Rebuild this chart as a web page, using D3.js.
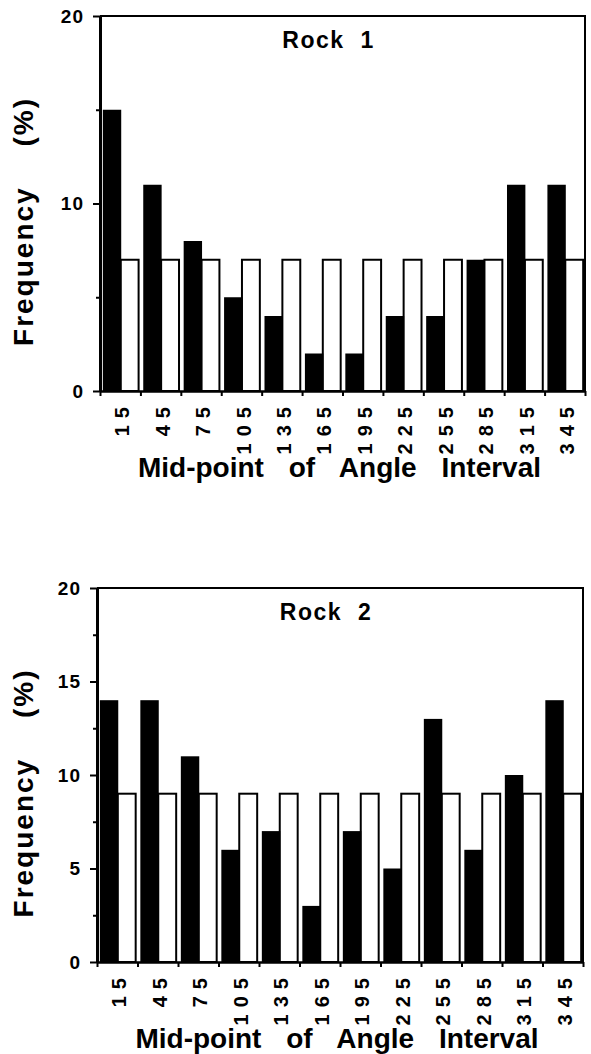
<!DOCTYPE html>
<html>
<head>
<meta charset="utf-8">
<script src="https://cdn.jsdelivr.net/npm/d3@7"></script>
<style>
    body { margin: 0; background: #fff; }
    svg text { font-family: "Liberation Sans", Arial, Helvetica, sans-serif; font-weight: bold; fill: #000; }
</style>
</head>
<body>
<svg id="chart" width="591" height="1054"></svg>
<script>
// mid-point of each 30 degree angle interval
var angleLabels = ["15", "45", "75", "105", "135", "165", "195", "225", "255", "285", "315", "345"];

// Rock 1 : black = measured, white = uniform
var rock1Observed = [15, 11, 8, 5, 4, 2, 2, 4, 4, 7, 11, 11];
var rock1Uniform = [7, 7, 7, 7, 7, 7, 7, 7, 7, 7, 7, 7];
var rock1Ticks = [0, 10, 20];
var rock1MinorTicks = [5, 15];

// Rock 2
var rock2Observed = [14, 14, 11, 6, 7, 3, 7, 5, 13, 6, 10, 14];
var rock2Uniform = [9, 9, 9, 9, 9, 9, 9, 9, 9, 9, 9, 9];
var rock2Ticks = [0, 5, 10, 15, 20];
var rock2MinorTicks = [2.5, 7.5, 12.5, 17.5];

var yMax = 20;

var svg = d3.select("#chart");

function drawPanel(p) {
    let g = svg.append("g");

    let x = d3.scaleBand().domain(angleLabels).range([p.left, p.right]);
    let bw = x.bandwidth();
    let xIn = d3.scaleBand().domain(["obs", "uni"]).range([bw * 0.07, bw * 0.955]);
    let xEdge = d3.scaleLinear().domain([0, angleLabels.length]).range([p.left, p.right]);
    let y = d3.scaleLinear().domain([0, yMax]).range([p.bottom, p.top]);

    // frame (top + right)
    g.append("path")
        .attr("d", "M" + p.left + "," + y(yMax) + "H" + p.right + "V" + y(0))
        .attr("fill", "none")
        .attr("stroke", "#000")
        .attr("stroke-width", 2);

    // white bars (uniform distribution)
    g.selectAll("rect.uni")
        .data(p.uniform)
        .join("rect")
        .attr("class", "uni")
        .attr("x", (d, i) => x(angleLabels[i]) + xIn("uni"))
        .attr("y", d => y(d))
        .attr("width", xIn.bandwidth())
        .attr("height", d => y(0) - y(d))
        .attr("fill", "#fff")
        .attr("stroke", "#000")
        .attr("stroke-width", 2);

    // black bars (observed)
    g.selectAll("rect.obs")
        .data(p.observed)
        .join("rect")
        .attr("class", "obs")
        .attr("x", (d, i) => x(angleLabels[i]) + xIn("obs"))
        .attr("y", d => y(d))
        .attr("width", xIn.bandwidth() + 0.5)
        .attr("height", d => y(0) - y(d))
        .attr("fill", "#000");

    // y axis
    let ya = g.append("g")
        .attr("transform", "translate(" + p.left + ",0)")
        .call(d3.axisLeft(y).tickValues(p.ticks).tickSize(7).tickSizeOuter(0).tickPadding(9).tickFormat(d3.format("d")));
    ya.select(".domain").attr("stroke-width", 3);
    ya.selectAll(".tick line").attr("stroke-width", 2);
    ya.selectAll(".tick text").style("font-size", "19px").style("letter-spacing", "1px");

    let ym = g.append("g")
        .attr("transform", "translate(" + p.left + ",0)")
        .call(d3.axisLeft(y).tickValues(p.minor).tickSize(4).tickFormat(""));
    ym.select(".domain").remove();
    ym.selectAll(".tick line").attr("stroke-width", 2);

    // x axis, ticks on the interval edges
    let xa = g.append("g")
        .attr("transform", "translate(0," + p.bottom + ")")
        .call(d3.axisBottom(xEdge).tickValues(d3.range(angleLabels.length + 1)).tickSize(5).tickSizeOuter(0).tickFormat(""));
    xa.select(".domain").attr("stroke-width", 2.5);
    xa.selectAll(".tick line").attr("stroke-width", 2);

    g.selectAll("text.xl")
        .data(angleLabels)
        .join("text")
        .attr("class", "xl")
        .attr("transform", d => "translate(" + (x(d) + bw / 2 + 2) + "," + (p.bottom + 9) + ") rotate(-90)")
        .attr("text-anchor", "end")
        .attr("dy", "0.36em")
        .style("font-size", "20px")
        .style("letter-spacing", "7px")
        .text(d => d);

    // titles
    g.append("text")
        .attr("x", (p.left + p.right) / 2 - 14)
        .attr("y", p.top + 32)
        .attr("text-anchor", "middle")
        .style("font-size", "23px")
        .style("letter-spacing", "1.5px")
        .style("word-spacing", "8px")
        .text(p.title);

    g.append("text")
        .attr("x", (p.left + p.right) / 2 - 3)
        .attr("y", p.bottom + 86)
        .attr("text-anchor", "middle")
        .style("font-size", "28px")
        .style("word-spacing", "17px")
        .text("Mid-point of Angle Interval");

    g.append("text")
        .attr("transform", "translate(33," + ((p.top + p.bottom) / 2 + 18) + ") rotate(-90)")
        .attr("text-anchor", "middle")
        .style("font-size", "28px")
        .style("letter-spacing", "2px")
        .style("word-spacing", "30px")
        .text("Frequency (%)");
}

drawPanel({ title: "Rock 1", observed: rock1Observed, uniform: rock1Uniform, ticks: rock1Ticks, minor: rock1MinorTicks,
    left: 100, right: 585, top: 16, bottom: 391 });
drawPanel({ title: "Rock 2", observed: rock2Observed, uniform: rock2Uniform, ticks: rock2Ticks, minor: rock2MinorTicks,
    left: 97, right: 583, top: 588, bottom: 962 });
</script>
</body>
</html>
